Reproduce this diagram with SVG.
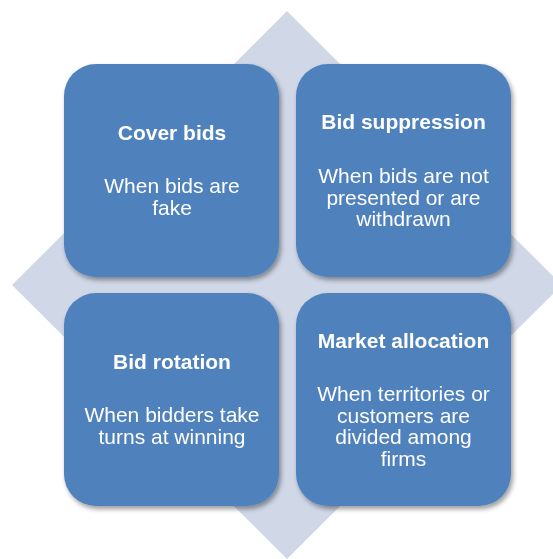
<svg xmlns="http://www.w3.org/2000/svg" width="553" height="559" viewBox="0 0 553 559">
<defs>
<filter id="sh" x="-10%" y="-10%" width="125%" height="125%">
<feGaussianBlur in="SourceAlpha" stdDeviation="2.5"/>
<feOffset dx="1.5" dy="2.5" result="b"/>
<feComponentTransfer><feFuncA type="linear" slope="0.4"/></feComponentTransfer>
<feMerge><feMergeNode/><feMergeNode in="SourceGraphic"/></feMerge>
</filter>
<style>
.box{fill:#4F81BD;}
.t{font-family:"Liberation Sans",Arial,sans-serif;font-size:21px;fill:#FFFFFF;text-anchor:middle;}
.b{font-weight:bold;}
</style>
</defs>
<rect width="553" height="559" fill="#FFFFFF"/>
<polygon id="diamond" points="287,11 562,285 287,559 12,285" fill="#D0D8E8"/>
<g id="cover-bids" filter="url(#sh)">
<rect class="box" x="64" y="64" width="215" height="213" rx="32"/>
<text class="t b" x="172" y="140">Cover bids</text>
<text class="t" x="172" y="193">When bids are</text>
<text class="t" x="172" y="215">fake</text>
</g>
<g id="bid-suppression" filter="url(#sh)">
<rect class="box" x="296" y="64" width="215" height="213" rx="32"/>
<text class="t b" x="403.5" y="129">Bid suppression</text>
<text class="t" x="403.5" y="183">When bids are not</text>
<text class="t" x="403.5" y="204.5">presented or are</text>
<text class="t" x="403.5" y="226">withdrawn</text>
</g>
<g id="bid-rotation" filter="url(#sh)">
<rect class="box" x="64" y="293" width="215" height="213" rx="32"/>
<text class="t b" x="172" y="369">Bid rotation</text>
<text class="t" x="172" y="422">When bidders take</text>
<text class="t" x="172" y="443.5">turns at winning</text>
</g>
<g id="market-allocation" filter="url(#sh)">
<rect class="box" x="296" y="293" width="215" height="213" rx="32"/>
<text class="t b" x="403.5" y="348">Market allocation</text>
<text class="t" x="403.5" y="401">When territories or</text>
<text class="t" x="403.5" y="422.5">customers are</text>
<text class="t" x="403.5" y="444">divided among</text>
<text class="t" x="403.5" y="465.5">firms</text>
</g>
<g id="connectors"/>
</svg>
